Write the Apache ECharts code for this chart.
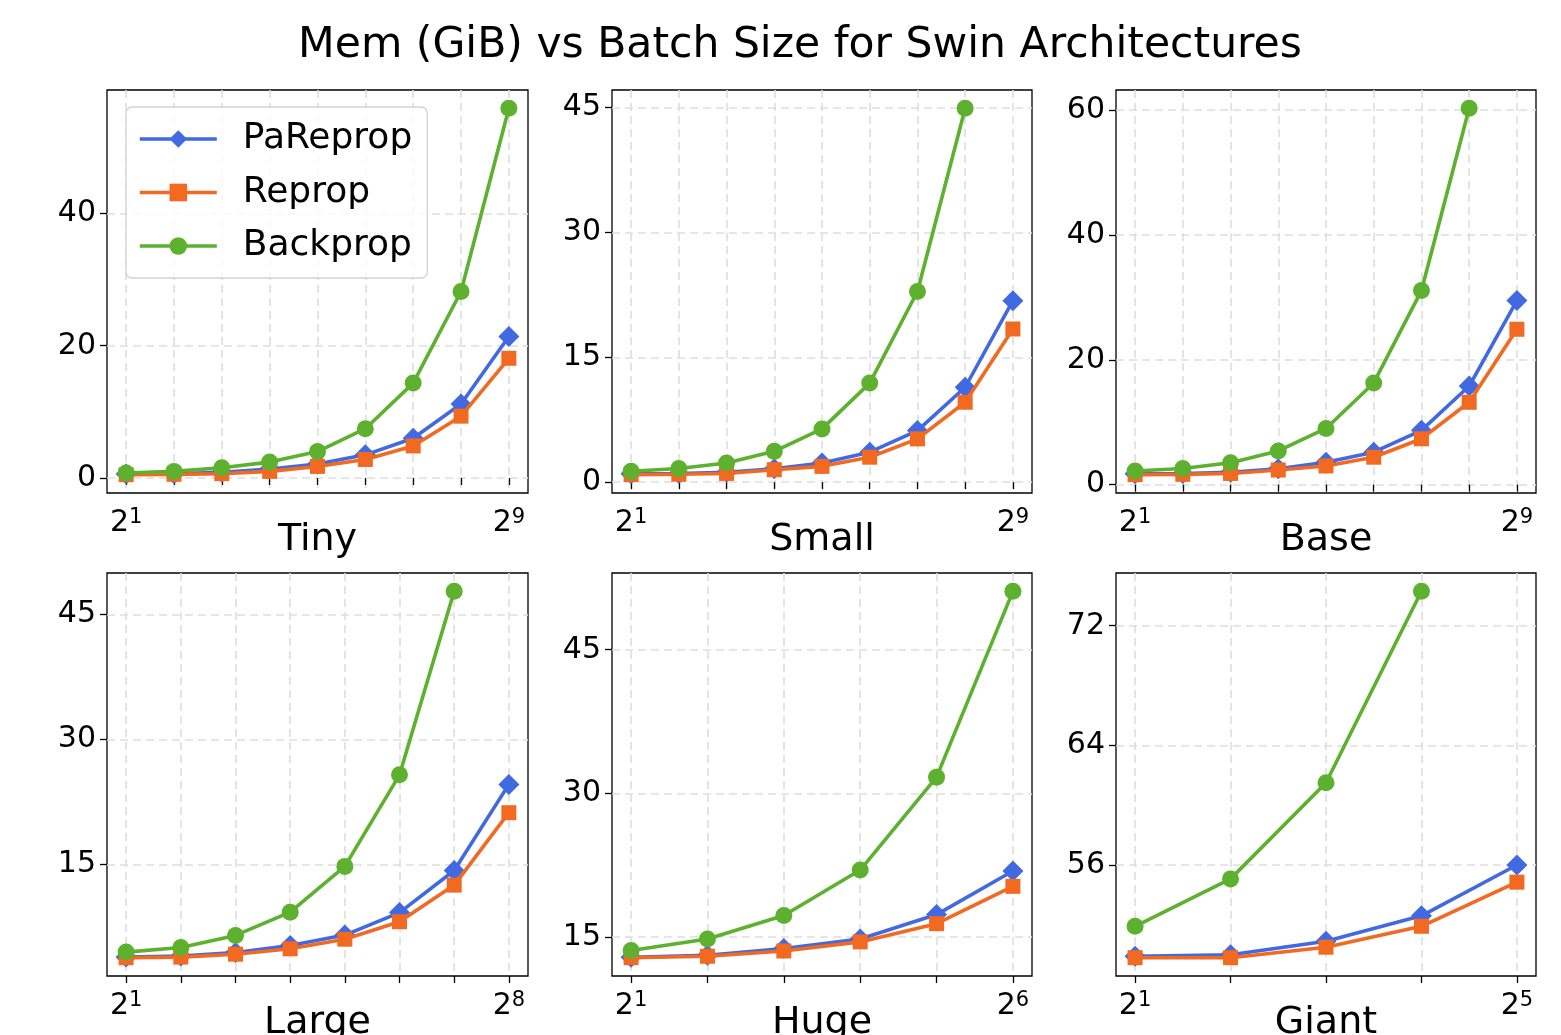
<!DOCTYPE html>
<html>
<head>
<meta charset="utf-8">
<script src="https://cdn.jsdelivr.net/npm/echarts@6/dist/echarts.min.js"></script>
<style>
html,body{margin:0;padding:0;background:#fff;}
#chart{width:1561px;height:1035px;}
</style>
</head>
<body>
<div id="chart"></div>
<script>
// ---------------- data ----------------
const titleText = 'Mem (GiB) vs Batch Size for Swin Architectures';
const seriesNames = ['PaReprop', 'Reprop', 'Backprop'];
const panelNames = ['Tiny', 'Small', 'Base', 'Large', 'Huge', 'Giant'];

const batchTiny  = [2, 4, 8, 16, 32, 64, 128, 256, 512];
const batchSmall = [2, 4, 8, 16, 32, 64, 128, 256, 512];
const batchBase  = [2, 4, 8, 16, 32, 64, 128, 256, 512];
const batchLarge = [2, 4, 8, 16, 32, 64, 128, 256];
const batchHuge  = [2, 4, 8, 16, 32, 64];
const batchGiant = [2, 4, 8, 16, 32];

const tinyPa = [0.6, 0.65, 0.85, 1.35, 2.1, 3.5, 6.0, 11.2, 21.4];
const tinyRe = [0.5, 0.55, 0.65, 1.0, 1.75, 2.8, 4.85, 9.35, 18.1];
const tinyBp = [0.76, 1.0, 1.55, 2.4, 4.0, 7.45, 14.35, 28.2, 55.9];

const smallPa = [1.0, 1.05, 1.2, 1.6, 2.3, 3.6, 6.2, 11.4, 21.8];
const smallRe = [0.9, 0.95, 1.05, 1.5, 1.9, 3.0, 5.2, 9.6, 18.4];
const smallBp = [1.32, 1.64, 2.3, 3.7, 6.4, 11.9, 22.9, 44.9, null];

const basePa = [1.75, 1.8, 2.0, 2.55, 3.6, 5.2, 8.7, 15.8, 29.5];
const baseRe = [1.6, 1.65, 1.8, 2.35, 3.0, 4.4, 7.35, 13.2, 24.9];
const baseBp = [2.2, 2.6, 3.5, 5.4, 9.0, 16.3, 31.1, 60.3, null];

const largePa = [3.85, 3.97, 4.4, 5.25, 6.5, 9.2, 14.25, 24.6];
const largeRe = [3.78, 3.85, 4.2, 4.85, 6.0, 8.1, 12.5, 21.2];
const largeBp = [4.45, 5.0, 6.45, 9.25, 14.75, 25.75, 47.8, null];

const hugePa = [12.9, 13.1, 13.8, 14.8, 17.35, 21.9];
const hugeRe = [12.85, 13.0, 13.55, 14.5, 16.4, 20.3];
const hugeBp = [13.6, 14.8, 17.25, 22.0, 31.7, 51.1];

const giantPa = [49.9, 50.0, 50.9, 52.6, 56.0];
const giantRe = [49.8, 49.8, 50.5, 51.9, 54.85];
const giantBp = [51.9, 55.07, 61.5, 74.3, null];

const yTicksTiny  = [0, 20, 40];
const yTicksSmall = [0, 15, 30, 45];
const yTicksBase  = [0, 20, 40, 60];
const yTicksLarge = [15, 30, 45];
const yTicksHuge  = [15, 30, 45];
const yTicksGiant = [56, 64, 72];

// ---------------- layout / style ----------------
const FONT = 'DejaVu Sans';
const colors = ['#4169E1', '#F26A21', '#5DB12E'];
const symbols = ['diamond', 'rect', 'circle'];
const symbolSizes = [21, 15, 17];

const panels = [
  {name: panelNames[0], batch: batchTiny,  vals: [tinyPa, tinyRe, tinyBp],    yt: yTicksTiny},
  {name: panelNames[1], batch: batchSmall, vals: [smallPa, smallRe, smallBp], yt: yTicksSmall},
  {name: panelNames[2], batch: batchBase,  vals: [basePa, baseRe, baseBp],    yt: yTicksBase},
  {name: panelNames[3], batch: batchLarge, vals: [largePa, largeRe, largeBp], yt: yTicksLarge},
  {name: panelNames[4], batch: batchHuge,  vals: [hugePa, hugeRe, hugeBp],    yt: yTicksHuge},
  {name: panelNames[5], batch: batchGiant, vals: [giantPa, giantRe, giantBp], yt: yTicksGiant}
];

const gridPos = [
  {left: 107, top: 90, width: 421, height: 403},
  {left: 612, top: 90, width: 420, height: 403},
  {left: 1116, top: 90, width: 420, height: 403},
  {left: 107, top: 573, width: 421, height: 403},
  {left: 612, top: 573, width: 420, height: 403},
  {left: 1116, top: 573, width: 420, height: 403}
];

const grids = [], xAxes = [], yAxes = [], series = [];
const gridLine = {show: true, lineStyle: {type: [8, 5], color: '#dedede', width: 1.6}};

panels.forEach((p, i) => {
  grids.push(Object.assign({show: true, borderColor: '#000', borderWidth: 1.3, containLabel: false, outerBoundsMode: 'none'}, gridPos[i]));
  const ex = p.batch.map(b => Math.log2(b));
  const x0 = ex[0], x1 = ex[ex.length - 1], xm = 0.05 * (x1 - x0);
  const all = [].concat(...p.vals).filter(v => v != null);
  const lo = Math.min(...all), hi = Math.max(...all), ym = 0.05 * (hi - lo);
  xAxes.push({
    gridIndex: i, type: 'value', min: x0 - xm, max: x1 + xm,
    axisLine: {show: false},
    axisTick: {show: true, length: 7, lineStyle: {color: '#000', width: 1.3}, customValues: ex},
    axisLabel: {
      customValues: [x0, x1], margin: 14,
      formatter: v => '{b|2}{s|' + Math.round(v) + '}',
      rich: {
        b: {fontSize: 30, fontFamily: FONT, color: '#000', lineHeight: 32},
        s: {fontSize: 21, fontFamily: FONT, color: '#000', lineHeight: 21, verticalAlign: 'top'}
      }
    },
    splitLine: gridLine,
    name: p.name, nameLocation: 'middle', nameGap: 28, nameMoveOverlap: false,
    nameTextStyle: {fontSize: 38, fontFamily: FONT, color: '#000'}
  });
  yAxes.push({
    gridIndex: i, type: 'value', min: lo - ym, max: hi + ym,
    axisLine: {show: false},
    axisTick: {show: true, length: 7, lineStyle: {color: '#000', width: 1.3}, customValues: p.yt},
    axisLabel: {customValues: p.yt, margin: 11, fontSize: 30, fontFamily: FONT, color: '#000'},
    splitLine: gridLine
  });
  p.vals.forEach((arr, k) => {
    series.push({
      name: seriesNames[k], type: 'line', xAxisIndex: i, yAxisIndex: i,
      data: arr.map((v, j) => [ex[j], v]).filter(d => d[1] != null),
      symbol: symbols[k], symbolSize: symbolSizes[k],
      lineStyle: {color: colors[k], width: 3.6},
      itemStyle: {color: colors[k], opacity: 1},
      showSymbol: true, animation: false, z: 2 + k
    });
  });
});

const chart = echarts.init(document.getElementById('chart'), null, {renderer: 'canvas'});
chart.setOption({
  backgroundColor: '#fff',
  animation: false,
  title: {
    text: titleText, left: 800, textAlign: 'center', top: 24, padding: 0,
    textStyle: {fontSize: 42.5, fontWeight: 'normal', fontFamily: FONT, color: '#000'}
  },
  legend: {
    data: seriesNames, orient: 'vertical', left: 126, top: 107,
    padding: [13, 15, 13, 12], itemGap: 15.5, itemWidth: 77, itemHeight: 22,
    lineStyle: {width: 3.6},
    backgroundColor: 'rgba(255,255,255,0.8)', borderColor: '#d3d3d3', borderWidth: 1.3, borderRadius: 6,
    textStyle: {fontSize: 36, fontFamily: FONT, color: '#000', lineHeight: 38, padding: [0, 0, 0, 21]},
    selectedMode: false
  },
  grid: grids, xAxis: xAxes, yAxis: yAxes, series: series
});
</script>
</body>
</html>
